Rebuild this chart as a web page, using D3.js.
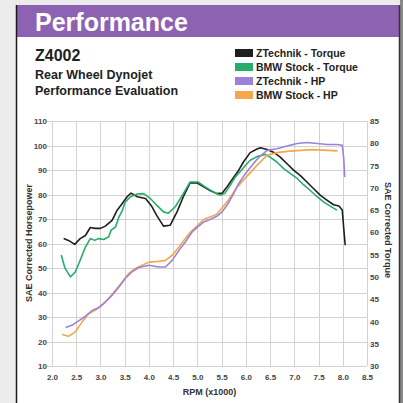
<!DOCTYPE html>
<html>
<head>
<meta charset="utf-8">
<script src="https://cdn.jsdelivr.net/npm/d3@7"></script>
<style>
  html, body { margin: 0; padding: 0; background: #ececec; }
  svg { display: block; }
  text { font-family: "Liberation Sans Narrow", "Liberation Sans", Arial, sans-serif; font-weight: bold; }
</style>
</head>
<body>
<div id="chart"></div>
<script>
// rpm (x1000) and values
const ztTorqueRpm = [2.24, 2.34, 2.47, 2.58, 2.69, 2.79, 2.89, 3.00, 3.10, 3.24, 3.34, 3.45, 3.55, 3.63, 3.76, 3.93, 4.05, 4.16, 4.30, 4.44, 4.58, 4.71, 4.85, 4.99, 5.13, 5.26, 5.40, 5.51, 5.61, 5.75, 5.85, 5.95, 6.09, 6.23, 6.30, 6.44, 6.57, 6.71, 6.85, 6.99, 7.12, 7.26, 7.40, 7.54, 7.68, 7.81, 7.92, 7.99, 8.02, 8.05]
const ztTorque = [58.6, 58.2, 57.3, 58.6, 59.3, 61.1, 60.9, 60.9, 61.4, 62.7, 64.9, 66.5, 68.0, 68.8, 68.0, 67.6, 66.0, 63.8, 61.4, 61.6, 64.6, 68.0, 71.1, 71.1, 70.2, 69.4, 68.7, 68.8, 70.2, 72.4, 73.9, 75.8, 77.9, 78.7, 79.0, 78.6, 78.0, 76.9, 75.4, 73.9, 72.8, 71.3, 69.8, 68.3, 67.2, 66.2, 65.9, 65.0, 60.9, 57.1]

const bmwTorqueRpm = [2.19, 2.27, 2.38, 2.48, 2.58, 2.69, 2.79, 2.88, 2.96, 3.07, 3.17, 3.22, 3.31, 3.38, 3.45, 3.51, 3.62, 3.76, 3.89, 4.02, 4.16, 4.30, 4.40, 4.54, 4.71, 4.85, 5.02, 5.16, 5.33, 5.47, 5.57, 5.68, 5.78, 5.88, 5.99, 6.09, 6.23, 6.40, 6.50, 6.64, 6.78, 6.92, 7.06, 7.19, 7.33, 7.47, 7.61, 7.74, 7.88]
const bmwTorque = [54.9, 51.9, 50.0, 51.1, 53.7, 56.7, 58.6, 58.2, 58.6, 58.4, 59.0, 60.5, 61.2, 63.4, 64.9, 66.8, 68.0, 68.6, 68.7, 67.7, 66.1, 64.6, 64.3, 65.7, 68.7, 71.3, 71.3, 70.2, 69.1, 68.3, 68.8, 70.6, 72.4, 73.6, 75.0, 76.2, 77.0, 77.5, 76.9, 75.8, 74.3, 73.2, 72.1, 70.7, 69.4, 68.0, 66.8, 65.9, 65.0]

const ztHpRpm = [2.28, 2.41, 2.55, 2.69, 2.83, 2.96, 3.10, 3.24, 3.38, 3.51, 3.65, 3.79, 4.00, 4.20, 4.34, 4.48, 4.62, 4.75, 4.89, 4.99, 5.13, 5.26, 5.40, 5.51, 5.61, 5.75, 5.85, 5.99, 6.13, 6.26, 6.44, 6.64, 6.85, 7.06, 7.26, 7.47, 7.68, 7.88, 7.99, 8.02, 8.04]
const ztHp = [25.7, 26.6, 28.4, 30.3, 32.7, 33.8, 36.1, 38.9, 42.2, 45.7, 48.4, 50.2, 51.1, 50.4, 50.4, 53.1, 57.2, 60.6, 64.7, 66.5, 68.8, 69.8, 71.1, 72.9, 75.6, 80.4, 84.4, 88.5, 91.9, 95.0, 98.0, 98.7, 99.8, 100.8, 101.2, 100.8, 100.4, 100.4, 100.1, 94.7, 87.1]

const bmwHpRpm = [2.21, 2.34, 2.48, 2.62, 2.76, 2.89, 3.03, 3.17, 3.31, 3.45, 3.58, 3.72, 3.86, 4.00, 4.20, 4.34, 4.48, 4.62, 4.75, 4.86, 5.13, 5.40, 5.61, 5.82, 6.02, 6.23, 6.44, 6.64, 6.85, 7.12, 7.40, 7.68, 7.89]
const bmwHp = [22.9, 22.1, 23.9, 28.0, 31.4, 32.7, 34.8, 37.5, 40.9, 44.3, 47.7, 49.8, 51.1, 52.4, 52.7, 53.1, 55.2, 58.6, 62.0, 64.7, 69.8, 71.9, 76.9, 83.0, 87.4, 91.9, 96.0, 97.1, 97.6, 98.0, 98.3, 98.0, 97.8]

const legendLabels = ["ZTechnik - Torque", "BMW Stock - Torque", "ZTechnik - HP", "BMW Stock - HP"]
const seriesColors = ["#1e1e1e", "#27ad6a", "#9b82d8", "#f6a64c"]

const hpTicks = d3.range(10, 111, 10)
const torqueTicks = d3.range(30, 86, 5)
const rpmTicks = d3.range(2, 8.51, 0.5)

const width = 403
const height = 403

var svg = d3.select('#chart').append('svg')
  .attr('width', width)
  .attr('height', height)

// page / card
svg.append('rect').attr('x', 400).attr('y', 0).attr('width', 3).attr('height', height).attr('fill', '#8a8a8a')
svg.append('rect').attr('x', 16).attr('y', 5).attr('width', 384).attr('height', 398).attr('fill', '#fff')
svg.append('rect').attr('x', 16).attr('y', 5).attr('width', 384).attr('height', 32).attr('fill', '#8d62b3')
svg.append('line').attr('x1', 16.5).attr('x2', 16.5).attr('y1', 5).attr('y2', height).attr('stroke', '#1a1a1a').attr('stroke-width', 1.5)
svg.append('line').attr('x1', 399.5).attr('x2', 399.5).attr('y1', 5).attr('y2', height).attr('stroke', '#333').attr('stroke-width', 1.5)

svg.append('text').attr('x', 35).attr('y', 31).attr('fill', '#fff')
  .style('font-size', '25px').text('Performance')

svg.append('text').attr('x', 35).attr('y', 61).attr('fill', '#222')
  .style('font-size', '16px').text('Z4002')
svg.append('text').attr('x', 35).attr('y', 79).attr('fill', '#222')
  .style('font-size', '12.5px').text('Rear Wheel Dynojet')
svg.append('text').attr('x', 35).attr('y', 95).attr('fill', '#222')
  .style('font-size', '12.5px').text('Performance Evaluation')

// legend
var legend = svg.append('g').attr('class', 'legend')
legend.selectAll('rect').data(legendLabels).enter().append('rect')
  .attr('x', 235).attr('y', function(d, i) { return 49 + i * 14 })
  .attr('width', 18).attr('height', 8)
  .attr('fill', function(d, i) { return seriesColors[i] })
legend.selectAll('text').data(legendLabels).enter().append('text')
  .attr('x', 256).attr('y', function(d, i) { return 57 + i * 14 })
  .attr('fill', '#222').style('font-size', '10.5px')
  .text(function(d) { return d })

// scales
const x = d3.scaleLinear().domain([2, 8.5]).range([52, 367])
const yHp = d3.scaleLinear().domain([10, 110]).range([366, 121])
const yTq = d3.scaleLinear().domain([30, 85]).range([366, 121])

var grid = svg.append('g').attr('class', 'grid')
  .attr('stroke', '#d2d2d2').attr('stroke-width', 1)
grid.selectAll('.h').data(hpTicks).enter().append('line')
  .attr('x1', x(2) - 5).attr('x2', x(8.5))
  .attr('y1', function(d) { return Math.round(yHp(d)) + 0.5 })
  .attr('y2', function(d) { return Math.round(yHp(d)) + 0.5 })
grid.selectAll('.v').data(rpmTicks).enter().append('line')
  .attr('y1', yHp(110)).attr('y2', yHp(10))
  .attr('x1', function(d) { return Math.round(x(d)) + 0.5 })
  .attr('x2', function(d) { return Math.round(x(d)) + 0.5 })

// axes (labels only, grid drawn above)
function styleAxis(g) {
  g.select('.domain').remove()
  g.selectAll('.tick line').remove()
  g.selectAll('text').attr('fill', '#444').style('font-size', '8px')
}

svg.append('g').attr('transform', 'translate(' + (x(2) - 4) + ',0)')
  .call(d3.axisLeft(yHp).tickValues(hpTicks).tickSize(0).tickPadding(1))
  .call(styleAxis)

svg.append('g').attr('transform', 'translate(' + (x(8.5) + 2) + ',0)')
  .call(d3.axisRight(yTq).tickValues(torqueTicks).tickSize(0).tickPadding(1))
  .call(styleAxis)

svg.append('g').attr('transform', 'translate(0,' + (yHp(10) + 6) + ')')
  .call(d3.axisBottom(x).tickValues(rpmTicks).tickFormat(d3.format('.1f')).tickSize(0).tickPadding(2))
  .call(styleAxis)

svg.append('text').attr('text-anchor', 'middle')
  .attr('transform', 'translate(32,243) rotate(-90)')
  .attr('fill', '#333').style('font-size', '9px').text('SAE Corrected Horsepower')
svg.append('text').attr('text-anchor', 'middle')
  .attr('transform', 'translate(385,230) rotate(90)')
  .attr('fill', '#333').style('font-size', '9px').text('SAE Corrected Torque')
svg.append('text').attr('text-anchor', 'middle')
  .attr('x', (x(2) + x(8.5)) / 2).attr('y', 395)
  .attr('fill', '#333').style('font-size', '9px').text('RPM (x1000)')

// curves
const series = [
  { rpm: ztTorqueRpm, vals: ztTorque, y: yTq, color: seriesColors[0] },
  { rpm: bmwTorqueRpm, vals: bmwTorque, y: yTq, color: seriesColors[1] },
  { rpm: bmwHpRpm, vals: bmwHp, y: yHp, color: seriesColors[3] },
  { rpm: ztHpRpm, vals: ztHp, y: yHp, color: seriesColors[2] }
]

svg.append('g').attr('class', 'curves').selectAll('path')
  .data(series).enter().append('path')
  .attr('fill', 'none')
  .attr('stroke', function(d) { return d.color })
  .attr('stroke-width', 1.6)
  .attr('stroke-linejoin', 'round')
  .attr('d', function(s) {
    return d3.line()
      .x(function(d, i) { return x(s.rpm[i]) })
      .y(function(d) { return s.y(d) })(s.vals)
  })
</script>
</body>
</html>
